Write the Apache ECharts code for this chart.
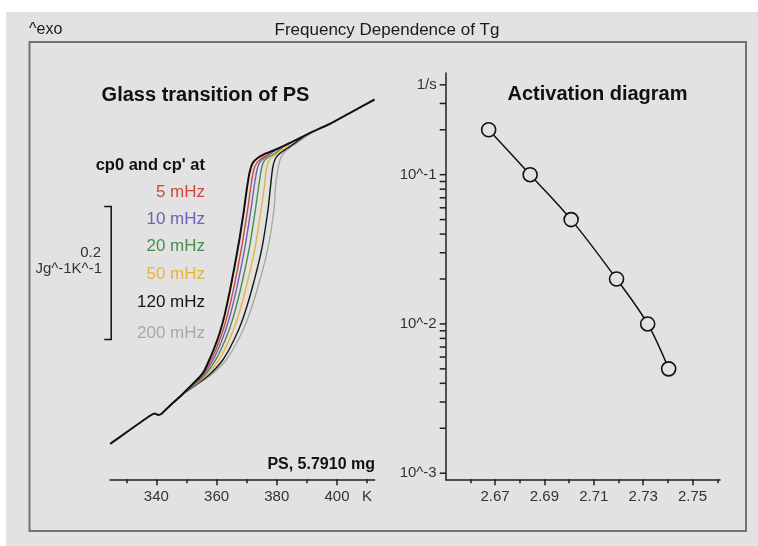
<!DOCTYPE html>
<html>
<head>
<meta charset="utf-8">
<title>Frequency Dependence of Tg</title>
<script src="https://cdn.jsdelivr.net/npm/echarts@6/dist/echarts.min.js"></script>
<style>
  html, body { margin: 0; padding: 0; background: #fff; }
  #chart { width: 758px; height: 546px; }
</style>
</head>
<body>
<div id="chart"></div>
<script>
// ---- Glass transition of PS: [temperature / K, cp (J g^-1 K^-1, relative)] ----
const cp0 = [
  [324.65, 0.0533], [331.13, 0.0741], [337.77, 0.0951], [339.44, 0.0990], [340.53, 0.0968],
  [341.76, 0.0985], [344.42, 0.1103], [347.74, 0.1237], [351.06, 0.1387], [354.39, 0.1537],
  [356.05, 0.1643], [357.71, 0.1808], [359.37, 0.1988], [361.03, 0.2198], [362.69, 0.2469],
  [364.35, 0.2814], [366.01, 0.3205], [367.67, 0.3626], [369.00, 0.4016], [370.00, 0.4347],
  [371.00, 0.4617], [372.00, 0.4753], [373.65, 0.4828], [375.98, 0.4888], [379.30, 0.4948],
  [384.29, 0.5053], [390.93, 0.5203], [397.58, 0.5339], [404.22, 0.5504], [412.50, 0.5707]
];
const cp5mHz = [
  [344.42, 0.1103], [348.41, 0.1267], [351.93, 0.1417], [355.25, 0.1567], [358.22, 0.1793],
  [361.04, 0.2093], [363.18, 0.2394], [365.56, 0.2844], [368.17, 0.3446], [370.30, 0.4047],
  [371.46, 0.4422], [372.33, 0.4648], [373.16, 0.4738], [374.32, 0.4798], [376.31, 0.4858],
  [378.64, 0.4936]
];
const cp10mHz = [
  [344.42, 0.1103], [348.41, 0.1267], [352.11, 0.1417], [355.61, 0.1567], [358.84, 0.1793],
  [361.80, 0.2093], [364.06, 0.2394], [366.55, 0.2844], [369.27, 0.3446], [371.40, 0.4047],
  [372.56, 0.4422], [373.49, 0.4663], [374.32, 0.4760], [375.65, 0.4820], [377.64, 0.4881],
  [380.30, 0.4971]
];
const cp20mHz = [
  [344.42, 0.1103], [348.41, 0.1267], [352.36, 0.1417], [356.11, 0.1567], [359.69, 0.1793],
  [362.85, 0.2093], [365.26, 0.2394], [367.89, 0.2844], [370.76, 0.3446], [372.89, 0.4047],
  [374.05, 0.4422], [374.98, 0.4678], [375.81, 0.4783], [377.31, 0.4843], [379.63, 0.4903],
  [382.62, 0.5019]
];
const cp50mHz = [
  [344.42, 0.1103], [348.41, 0.1267], [352.67, 0.1417], [356.74, 0.1567], [360.76, 0.1793],
  [364.18, 0.2093], [366.77, 0.2394], [369.60, 0.2844], [372.66, 0.3446], [374.78, 0.4047],
  [375.95, 0.4422], [376.64, 0.4678], [377.48, 0.4798], [378.97, 0.4865], [381.30, 0.4933],
  [385.28, 0.5076]
];
const cp120mHz = [
  [344.42, 0.1103], [348.41, 0.1267], [353.06, 0.1417], [357.51, 0.1567], [362.06, 0.1793],
  [365.78, 0.2093], [368.60, 0.2394], [371.66, 0.2844], [374.95, 0.3446], [377.08, 0.4047],
  [377.97, 0.4422], [378.64, 0.4678], [379.47, 0.4813], [380.96, 0.4896], [383.62, 0.4978],
  [386.28, 0.5061], [389.60, 0.5174]
];
const cp200mHz = [
  [344.42, 0.1103], [348.41, 0.1267], [353.39, 0.1417], [358.17, 0.1567], [363.19, 0.1793],
  [367.18, 0.2093], [370.20, 0.2394], [373.46, 0.2844], [376.94, 0.3446], [379.07, 0.4047],
  [379.63, 0.4422], [380.47, 0.4678], [381.30, 0.4828], [382.62, 0.4918], [384.95, 0.5001],
  [387.61, 0.5083], [392.26, 0.5229]
];
const freqNames = ['5 mHz', '10 mHz', '20 mHz', '50 mHz', '120 mHz', '200 mHz'];
const freqColors = ['#d2463c', '#6a62bc', '#4a8c52', '#e8b23e', '#161616', '#a8a8a8'];
const freqCurves = [cp5mHz, cp10mHz, cp20mHz, cp50mHz, cp120mHz, cp200mHz];

const tempLabelValues = [340, 360, 380, 400, 410];
const tempMajorTicks = [340, 360, 380, 400];
const tempMinorTicks = [330, 350, 370, 390, 410];
const scaleBar = [325, 0.21, 0.41]; // temperature position, lower / upper cp (0.2 J g^-1 K^-1)

// ---- Activation diagram: 1000/T (1/K) vs. frequency (1/s) ----
const invTg = [2.6674, 2.6842, 2.7008, 2.7192, 2.7318, 2.7403];
const freqHz = [0.2, 0.1, 0.05, 0.02, 0.01, 0.005];
const invTMajorTicks = [2.67, 2.69, 2.71, 2.73, 2.75];
const invTMinorTicks = [2.66, 2.68, 2.70, 2.72, 2.74, 2.76];
const freqTicks = [
  0.001, 0.002, 0.003, 0.004, 0.005, 0.006, 0.007, 0.008, 0.009,
  0.01, 0.02, 0.03, 0.04, 0.05, 0.06, 0.07, 0.08, 0.09,
  0.1, 0.2, 0.3, 0.4
];
const freqTickLabels = [[0.001, '10^-3'], [0.01, '10^-2'], [0.1, '10^-1'], [0.4, '1/s']];

const FONT = '"Liberation Sans", Arial, Helvetica, sans-serif';
const PANEL = '#e2e2e2';
const AXIS = '#1e1e1e';
const LABEL = '#333';

const chart = echarts.init(document.getElementById('chart'), null, { renderer: 'canvas' });

function text(x, y, str, opts) {
  return {
    type: 'text', x: x, y: y, silent: true, z: 10,
    style: Object.assign({
      text: str, font: '15px ' + FONT, fill: LABEL,
      align: 'left', verticalAlign: 'middle'
    }, opts || {})
  };
}

const graphics = [
  { type: 'rect', z: -20, silent: true, shape: { x: 6, y: 12, width: 752, height: 534 }, style: { fill: PANEL } },
  { type: 'rect', z: -19, silent: true, shape: { x: 29.5, y: 42, width: 716.5, height: 489 },
    style: { fill: 'none', stroke: '#727272', lineWidth: 2 } },
  text(29, 30, '^exo', { font: '16px ' + FONT, fill: '#1a1a1a' }),
  text(387, 30, 'Frequency Dependence of Tg', { font: '17px ' + FONT, fill: '#1a1a1a', align: 'center' }),
  text(205.5, 95, 'Glass transition of PS', { font: 'bold 20px ' + FONT, fill: '#111', align: 'center' }),
  text(597.5, 94, 'Activation diagram', { font: 'bold 20px ' + FONT, fill: '#111', align: 'center' }),
  text(205, 165, "cp0 and cp' at", { font: 'bold 16.5px ' + FONT, fill: '#111', align: 'right' }),
  text(101, 253, '0.2', { align: 'right' }),
  text(102, 269, 'Jg^-1K^-1', { align: 'right' }),
  text(375, 465, 'PS, 5.7910 mg', { font: 'bold 16px ' + FONT, fill: '#111', align: 'right' })
];
const legendY = [192, 219, 246, 274, 302, 333];
freqNames.forEach(function (name, i) {
  graphics.push(text(205, legendY[i], name, { font: '17px ' + FONT, fill: freqColors[i], align: 'right' }));
});

const axisLineStyle = { color: AXIS, width: 1.5 };

const series = [];
// frequency curves, highest frequency at the back
for (let i = freqCurves.length - 1; i >= 0; i--) {
  series.push({
    type: 'line', name: freqNames[i], xAxisIndex: 0, yAxisIndex: 0,
    data: freqCurves[i], showSymbol: false, smooth: 0.25, z: 3,
    lineStyle: { color: freqColors[i], width: 1.4 }
  });
}
series.push({
  type: 'line', name: 'cp0', xAxisIndex: 0, yAxisIndex: 0,
  data: cp0, showSymbol: false, smooth: 0.12, z: 5,
  lineStyle: { color: '#111', width: 2 }
});
// 0.2 J g^-1 K^-1 scale bar
series.push({
  type: 'custom', xAxisIndex: 0, yAxisIndex: 0, clip: false, silent: true, z: 6,
  data: [scaleBar],
  renderItem: function (params, api) {
    const lo = api.coord([api.value(0), api.value(1)]);
    const hi = api.coord([api.value(0), api.value(2)]);
    return {
      type: 'polyline',
      shape: { points: [[hi[0] - 7, hi[1]], [hi[0], hi[1]], [lo[0], lo[1]], [lo[0] - 7, lo[1]]] },
      style: { stroke: '#111', lineWidth: 1.5, fill: 'none' }
    };
  }
});
// activation points
series.push({
  type: 'line', name: 'activation', xAxisIndex: 2, yAxisIndex: 1,
  data: invTg.map(function (x, i) { return [x, freqHz[i]]; }),
  smooth: 0.35, symbol: 'circle', symbolSize: 14, z: 5,
  lineStyle: { color: '#111', width: 1.5 },
  itemStyle: { color: PANEL, borderColor: '#111', borderWidth: 1.6 }
});
// logarithmic frequency ticks with labels
series.push({
  type: 'custom', xAxisIndex: 2, yAxisIndex: 1, clip: false, silent: true, z: 6,
  data: freqTicks.map(function (v) { return [2.65, v]; }),
  renderItem: function (params, api) {
    const p = api.coord([api.value(0), api.value(1)]);
    const children = [{
      type: 'line',
      shape: { x1: p[0] - 6, y1: p[1], x2: p[0], y2: p[1] },
      style: { stroke: AXIS, lineWidth: 1.5 }
    }];
    const v = api.value(1);
    freqTickLabels.forEach(function (lab) {
      if (Math.abs(lab[0] - v) < 1e-9) {
        children.push({
          type: 'text', x: p[0] - 9, y: p[1],
          style: { text: lab[1], font: '15px ' + FONT, fill: LABEL, align: 'right', verticalAlign: 'middle' }
        });
      }
    });
    return { type: 'group', children: children };
  }
});

const option = {
  animation: false,
  backgroundColor: '#ffffff',
  graphic: { elements: graphics },
  grid: [
    { left: 110, top: 80, width: 264.6, height: 399.3, containLabel: false },
    { left: 445.7, top: 73, width: 274.3, height: 406.3, containLabel: false }
  ],
  xAxis: [
    {
      type: 'value', gridIndex: 0, min: 324.6, max: 412.5, position: 'bottom', offset: 0,
      axisLine: { show: true, lineStyle: axisLineStyle },
      axisTick: { show: true, length: 6, customValues: tempMajorTicks, lineStyle: axisLineStyle },
      axisLabel: {
        show: true, customValues: tempLabelValues, margin: 10,
        color: LABEL, fontSize: 15, fontFamily: FONT,
        formatter: function (v) { return v === 410 ? 'K' : String(v); }
      },
      splitLine: { show: false }
    },
    {
      type: 'value', gridIndex: 0, min: 324.6, max: 412.5, position: 'bottom', offset: 0,
      axisLine: { show: false },
      axisTick: { show: true, length: 4, customValues: tempMinorTicks, lineStyle: axisLineStyle },
      axisLabel: { show: false },
      splitLine: { show: false }
    },
    {
      type: 'value', gridIndex: 1, min: 2.65, max: 2.7611, position: 'bottom', offset: 0,
      axisLine: { show: true, lineStyle: axisLineStyle },
      axisTick: { show: true, length: 6, customValues: invTMajorTicks, lineStyle: axisLineStyle },
      axisLabel: {
        show: true, customValues: invTMajorTicks, margin: 10,
        color: LABEL, fontSize: 15, fontFamily: FONT,
        formatter: function (v) { return v.toFixed(2); }
      },
      splitLine: { show: false }
    },
    {
      type: 'value', gridIndex: 1, min: 2.65, max: 2.7611, position: 'bottom', offset: 0,
      axisLine: { show: false },
      axisTick: { show: true, length: 4, customValues: invTMinorTicks, lineStyle: axisLineStyle },
      axisLabel: { show: false },
      splitLine: { show: false }
    }
  ],
  yAxis: [
    { type: 'value', gridIndex: 0, min: 0, max: 0.6, show: false },
    {
      type: 'log', gridIndex: 1, min: 0.00091, max: 0.48, logBase: 10,
      axisLine: { show: true, lineStyle: axisLineStyle },
      axisTick: { show: false },
      axisLabel: { show: false },
      splitLine: { show: false },
      minorTick: { show: false }
    }
  ],
  series: series
};

chart.setOption(option);
</script>
</body>
</html>
